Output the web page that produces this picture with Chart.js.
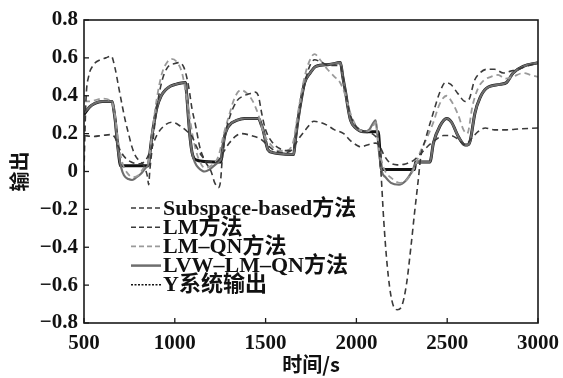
<!DOCTYPE html>
<html>
<head>
<meta charset="utf-8">
<script src="https://cdn.jsdelivr.net/npm/chart.js@4.4.1/dist/chart.umd.min.js"></script>
<style>
    body { margin: 0; background: #fff; }
    canvas { display: block; }
</style>
</head>
<body>
<canvas id="saidaChart" width="563" height="378"></canvas>
<script>
// valores (tempo em s, saída)
const sysT = [500, 530, 560, 600, 655, 665, 672, 682, 690, 700, 855, 862, 874, 888, 902, 925, 948, 975, 1003, 1058, 1066, 1076, 1085, 1095, 1105, 1122, 1140, 1254, 1262, 1274, 1290, 1311, 1340, 1384, 1462, 1475, 1486, 1500, 1513, 1540, 1568, 1655, 1662, 1678, 1700, 1715, 1745, 1777, 1850, 1912, 1925, 1941, 1955, 1968, 1996, 2042, 2120, 2130, 2138, 2320, 2326, 2405, 2424, 2460, 2497, 2524, 2561, 2598, 2612, 2626, 2653, 2681, 2717, 2791, 2827, 2863, 2918, 3000];
const sysY = [0.30, 0.34, 0.36, 0.37, 0.37, 0.32, 0.27, 0.17, 0.10, 0.03, 0.03, 0.09, 0.185, 0.27, 0.34, 0.40, 0.43, 0.45, 0.46, 0.47, 0.40, 0.27, 0.17, 0.10, 0.07, 0.06, 0.055, 0.05, 0.11, 0.185, 0.23, 0.255, 0.27, 0.28, 0.28, 0.25, 0.22, 0.16, 0.115, 0.10, 0.095, 0.09, 0.15, 0.27, 0.40, 0.47, 0.52, 0.555, 0.565, 0.575, 0.50, 0.415, 0.33, 0.27, 0.23, 0.21, 0.21, 0.10, 0.01, 0.01, 0.05, 0.05, 0.15, 0.24, 0.28, 0.26, 0.185, 0.14, 0.14, 0.16, 0.31, 0.39, 0.44, 0.46, 0.47, 0.52, 0.555, 0.575];

const lvwT = [500, 530, 560, 600, 655, 665, 672, 682, 690, 705, 720, 745, 765, 790, 815, 840, 855, 874, 888, 902, 925, 948, 975, 1003, 1058, 1066, 1076, 1085, 1095, 1110, 1130, 1165, 1190, 1215, 1240, 1256, 1274, 1290, 1311, 1340, 1384, 1462, 1475, 1486, 1500, 1513, 1540, 1568, 1655, 1662, 1678, 1700, 1715, 1745, 1777, 1850, 1912, 1925, 1941, 1955, 1968, 1996, 2042, 2070, 2106, 2115, 2125, 2140, 2160, 2190, 2235, 2270, 2300, 2320, 2330, 2405, 2424, 2460, 2497, 2524, 2561, 2598, 2612, 2626, 2653, 2681, 2717, 2791, 2827, 2863, 2918, 3000];
const lvwY = [0.31, 0.34, 0.36, 0.37, 0.37, 0.32, 0.27, 0.17, 0.10, 0.02, -0.02, -0.04, -0.045, -0.03, -0.01, 0.02, 0.04, 0.185, 0.27, 0.34, 0.40, 0.43, 0.45, 0.46, 0.47, 0.40, 0.27, 0.17, 0.10, 0.05, 0.02, 0.0, 0.01, 0.03, 0.05, 0.07, 0.185, 0.23, 0.255, 0.27, 0.28, 0.28, 0.25, 0.22, 0.16, 0.115, 0.10, 0.095, 0.09, 0.15, 0.27, 0.40, 0.47, 0.52, 0.555, 0.565, 0.575, 0.50, 0.415, 0.33, 0.27, 0.23, 0.21, 0.22, 0.27, 0.20, 0.10, 0.0, -0.03, -0.06, -0.07, -0.05, -0.01, 0.03, 0.05, 0.05, 0.15, 0.24, 0.28, 0.26, 0.185, 0.14, 0.14, 0.16, 0.31, 0.39, 0.44, 0.46, 0.47, 0.52, 0.555, 0.575];

const lmqnT = [500, 530, 600, 650, 670, 690, 710, 740, 770, 800, 830, 855, 875, 900, 930, 960, 980, 1010, 1040, 1060, 1080, 1100, 1130, 1165, 1200, 1240, 1270, 1300, 1330, 1365, 1400, 1430, 1460, 1490, 1530, 1570, 1610, 1650, 1680, 1710, 1740, 1770, 1800, 1840, 1880, 1910, 1940, 1970, 2000, 2040, 2080, 2106, 2125, 2150, 2200, 2240, 2280, 2320, 2350, 2380, 2420, 2460, 2497, 2530, 2560, 2590, 2610, 2640, 2670, 2700, 2740, 2780, 2820, 2860, 2920, 2960, 3000];
const lmqnY = [0.37, 0.37, 0.385, 0.37, 0.30, 0.15, 0.05, -0.01, -0.03, -0.02, 0.02, 0.05, 0.20, 0.38, 0.52, 0.58, 0.595, 0.58, 0.52, 0.42, 0.30, 0.18, 0.07, 0.02, 0.03, 0.08, 0.20, 0.30, 0.39, 0.43, 0.41, 0.37, 0.30, 0.20, 0.14, 0.11, 0.11, 0.15, 0.32, 0.48, 0.58, 0.62, 0.59, 0.54, 0.50, 0.47, 0.40, 0.30, 0.24, 0.21, 0.22, 0.26, 0.12, 0.02, -0.04, -0.06, -0.04, 0.02, 0.10, 0.16, 0.25, 0.36, 0.40, 0.36, 0.30, 0.22, 0.20, 0.35, 0.44, 0.48, 0.50, 0.51, 0.49, 0.50, 0.52, 0.51, 0.50];

const lmT = [500, 505, 512, 525, 550, 590, 620, 650, 670, 690, 710, 727, 745, 764, 785, 801, 830, 850, 856, 862, 875, 900, 930, 960, 1000, 1021, 1050, 1076, 1095, 1113, 1140, 1170, 1200, 1220, 1240, 1252, 1260, 1275, 1300, 1340, 1380, 1410, 1440, 1460, 1480, 1500, 1540, 1580, 1620, 1655, 1680, 1710, 1740, 1770, 1800, 1850, 1910, 1935, 1960, 1990, 2040, 2100, 2125, 2135, 2150, 2170, 2195, 2225, 2250, 2275, 2300, 2320, 2340, 2355, 2380, 2420, 2460, 2490, 2520, 2560, 2600, 2620, 2650, 2680, 2720, 2760, 2810, 2850, 2890, 2950, 3000];
const lmY = [0.0, 0.20, 0.40, 0.50, 0.56, 0.59, 0.60, 0.61, 0.55, 0.45, 0.35, 0.27, 0.20, 0.13, 0.08, 0.06, 0.03, -0.03, -0.07, 0.0, 0.12, 0.33, 0.48, 0.55, 0.57, 0.575, 0.55, 0.45, 0.33, 0.25, 0.12, 0.05, 0.0, -0.06, -0.085, -0.05, 0.05, 0.18, 0.28, 0.37, 0.40, 0.41, 0.42, 0.40, 0.30, 0.22, 0.15, 0.12, 0.11, 0.12, 0.28, 0.44, 0.55, 0.59, 0.58, 0.56, 0.56, 0.45, 0.32, 0.25, 0.21, 0.19, 0.12, 0.0, -0.25, -0.50, -0.68, -0.73, -0.71, -0.60, -0.40, -0.22, -0.05, 0.08, 0.17, 0.30, 0.42, 0.47, 0.46, 0.41, 0.37, 0.38, 0.48, 0.52, 0.54, 0.54, 0.52, 0.53, 0.54, 0.56, 0.57];

const subT = [500, 550, 600, 650, 670, 690, 720, 760, 800, 840, 870, 900, 940, 985, 1030, 1070, 1095, 1120, 1150, 1190, 1230, 1260, 1300, 1340, 1370, 1420, 1475, 1510, 1550, 1600, 1640, 1680, 1720, 1766, 1800, 1838, 1880, 1930, 1970, 2000, 2024, 2060, 2106, 2125, 2150, 2180, 2224, 2270, 2317, 2360, 2400, 2440, 2480, 2520, 2560, 2600, 2630, 2670, 2710, 2760, 2827, 2900, 3000];
const subY = [0.19, 0.185, 0.19, 0.195, 0.18, 0.13, 0.08, 0.05, 0.04, 0.06, 0.12, 0.19, 0.24, 0.26, 0.24, 0.21, 0.185, 0.13, 0.08, 0.05, 0.05, 0.09, 0.15, 0.19, 0.20, 0.19, 0.17, 0.14, 0.11, 0.10, 0.11, 0.17, 0.22, 0.265, 0.26, 0.245, 0.22, 0.20, 0.16, 0.14, 0.13, 0.14, 0.15, 0.14, 0.09, 0.05, 0.035, 0.04, 0.06, 0.10, 0.14, 0.17, 0.19, 0.19, 0.17, 0.14, 0.17, 0.21, 0.23, 0.22, 0.22, 0.225, 0.23];

const legendLabels = ['Subspace-based方法', 'LM方法', 'LM–QN方法', 'LVW–LM–QN方法', 'Y系统输出'];
const xTicks = [500, 1000, 1500, 2000, 2500, 3000];
const yTicks = [-0.8, -0.6, -0.4, -0.2, 0, 0.2, 0.4, 0.6, 0.8];
const xTitle = '时间/s';
const yTitle = '输出';

const SERIF = "'Liberation Serif', 'Times New Roman', 'Noto Sans CJK SC', serif";
const CJK = "'Noto Sans CJK SC', sans-serif";

const toPoints = (ts, ys) => ts.map((t, i) => ({ x: t, y: ys[i] }));

// moldura, marcas para dentro, títulos dos eixos e legenda
const framePlugin = {
    id: 'frame',
    afterDraw(chart) {
        const c = chart.ctx;
        const a = chart.chartArea;
        const sx = chart.scales.x, sy = chart.scales.y;
        c.save();
        c.strokeStyle = '#1a1a1a';
        c.lineWidth = 1.6;
        c.strokeRect(a.left, a.top, a.right - a.left, a.bottom - a.top);

        c.lineWidth = 1.3;
        xTicks.forEach(v => {
            const px = sx.getPixelForValue(v);
            c.beginPath();
            c.moveTo(px, a.bottom);
            c.lineTo(px, a.bottom - 5);
            c.stroke();
        });
        yTicks.forEach(v => {
            const py = sy.getPixelForValue(v);
            c.beginPath();
            c.moveTo(a.left, py);
            c.lineTo(a.left + 5, py);
            c.stroke();
        });

        // títulos dos eixos
        c.fillStyle = '#111';
        c.font = 'bold 20px ' + CJK;
        c.textAlign = 'center';
        c.textBaseline = 'middle';
        c.fillText(xTitle, (a.left + a.right) / 2, 364);
        c.save();
        c.translate(19, (a.top + a.bottom) / 2);
        c.rotate(-Math.PI / 2);
        c.fillText(yTitle, 0, 0);
        c.restore();

        // legenda
        const x0 = a.left + 47, x1 = a.left + 77, tx = a.left + 79;
        c.font = 'bold 22px ' + SERIF;
        c.textAlign = 'left';
        chart.data.datasets.forEach((ds, i) => {
            const y = 208 + i * 19.2;
            c.beginPath();
            c.strokeStyle = ds.borderColor;
            c.lineWidth = ds.legendWidth;
            c.setLineDash(ds.legendDash);
            c.moveTo(x0, y);
            c.lineTo(x1, y);
            c.stroke();
            c.setLineDash([]);
            c.fillText(ds.label, tx, y + 1);
        });
        c.restore();
    }
};

const ctx = document.getElementById('saidaChart').getContext('2d');
new Chart(ctx, {
    type: 'line',
    data: {
        datasets: [
            { label: legendLabels[0], data: toPoints(subT, subY), borderColor: '#3a3a3a', borderWidth: 1.6, borderDash: [6, 4], legendDash: [5, 3], legendWidth: 1.6 },
            { label: legendLabels[1], data: toPoints(lmT, lmY), borderColor: '#3a3a3a', borderWidth: 1.6, borderDash: [6, 4], legendDash: [5, 3], legendWidth: 1.6 },
            { label: legendLabels[2], data: toPoints(lmqnT, lmqnY), borderColor: '#9a9a9a', borderWidth: 1.8, borderDash: [6, 4], legendDash: [5, 3], legendWidth: 1.8 },
            { label: legendLabels[3], data: toPoints(lvwT, lvwY), borderColor: '#6e6e6e', borderWidth: 2.2, borderDash: [], legendDash: [], legendWidth: 2.5 },
            { label: legendLabels[4], data: toPoints(sysT, sysY), borderColor: '#111', borderWidth: 3, borderDash: [], legendDash: [2, 1.5], legendWidth: 1.5 }
        ]
    },
    options: {
        responsive: false,
        animation: false,
        layout: { padding: { top: 20, right: 25, left: 0, bottom: 0 } },
        elements: {
            point: { radius: 0 },
            line: { tension: 0.4, cubicInterpolationMode: 'monotone', borderCapStyle: 'butt' }
        },
        plugins: {
            legend: { display: false },
            tooltip: { enabled: false }
        },
        scales: {
            x: {
                type: 'linear',
                min: 500,
                max: 3000,
                afterBuildTicks: (scale) => { scale.ticks = xTicks.map(v => ({ value: v })); },
                afterFit: (scale) => { scale.height = 55; scale.paddingLeft = 0; scale.paddingRight = 0; },
                grid: { display: false, drawTicks: false },
                border: { display: false },
                ticks: {
                    padding: 8,
                    color: '#111',
                    font: { family: SERIF, size: 21, weight: 'bold' },
                    maxRotation: 0,
                    callback: (v) => String(v)
                }
            },
            y: {
                min: -0.8,
                max: 0.8,
                afterBuildTicks: (scale) => { scale.ticks = yTicks.map(v => ({ value: v })); },
                afterFit: (scale) => { scale.width = 84; },
                grid: { display: false, drawTicks: false },
                border: { display: false },
                ticks: {
                    padding: 6,
                    color: '#111',
                    font: { family: SERIF, size: 21, weight: 'bold' },
                    callback: (v) => (v < 0 ? '\u2212' + Math.abs(v).toFixed(1) : (v === 0 ? '0' : v.toFixed(1)))
                }
            }
        }
    },
    plugins: [framePlugin]
});
</script>
</body>
</html>
